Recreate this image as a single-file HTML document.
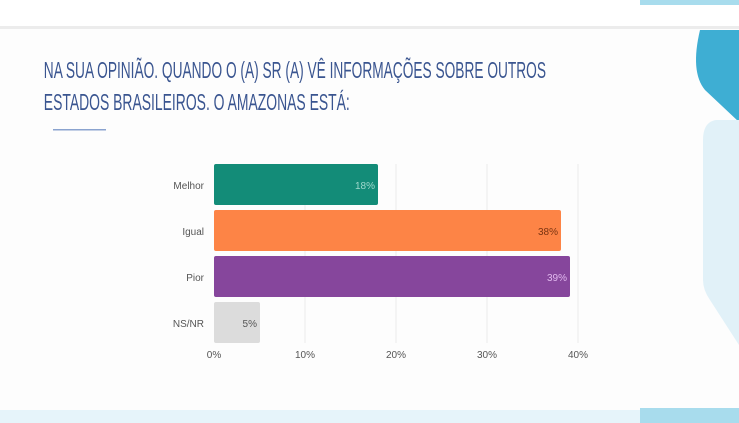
<!DOCTYPE html>
<html><head><meta charset="utf-8"><style>
html,body{margin:0;padding:0;background:#fff;}
svg{display:block}
text{font-family:"Liberation Sans",sans-serif;}
</style></head><body>
<svg width="739" height="423" viewBox="0 0 739 423" xmlns="http://www.w3.org/2000/svg">
<rect width="739" height="423" fill="#fdfdfd"/>
<rect x="0" y="0" width="739" height="26" fill="#ffffff"/>
<rect x="640" y="0" width="99" height="5" fill="#a8dced"/>
<rect x="0" y="26" width="739" height="3" fill="#ececec"/>
<path d="M700 30 L739 30 L739 122 L705 90 Q690 72 700 30 Z" fill="#3eaed3"/>
<path d="M716 120 L739 120 L739 345 L710 300 Q703 290 703 280 L703 140 Q703 122 716 120 Z" fill="#e1f1f8"/>
<rect x="0" y="410" width="739" height="13" fill="#e6f4fa"/>
<rect x="640" y="408" width="99" height="15" fill="#a8dced"/>
<g fill="#3a5590" font-size="23" transform="scale(0.6,1)">
<text x="73" y="78" textLength="837" lengthAdjust="spacingAndGlyphs">NA SUA OPINIÃO. QUANDO O (A) SR (A) VÊ INFORMAÇÕES SOBRE OUTROS</text>
<text x="73" y="110" textLength="510" lengthAdjust="spacingAndGlyphs">ESTADOS BRASILEIROS. O AMAZONAS ESTÁ:</text>
</g>
<rect x="53" y="129" width="53" height="1.5" fill="#8aa3cf"/>
<g stroke="#ebebeb" stroke-width="1">
<line x1="305" y1="164" x2="305" y2="343"/>
<line x1="396" y1="164" x2="396" y2="343"/>
<line x1="487" y1="164" x2="487" y2="343"/>
<line x1="578" y1="164" x2="578" y2="343"/>
</g>
<rect x="214" y="164" width="164" height="41" rx="2" fill="#138c78"/>
<rect x="214" y="210" width="347" height="41" rx="2" fill="#fd8446"/>
<rect x="214" y="256" width="356" height="41" rx="2" fill="#86469c"/>
<rect x="214" y="302" width="46" height="41" rx="2" fill="#dcdcdc"/>
<g font-size="10" text-anchor="end">
<text x="375" y="189" fill="#9fd8cc">18%</text>
<text x="558" y="235" fill="#7a3412">38%</text>
<text x="567" y="281" fill="#e2b9ef">39%</text>
<text x="257" y="327" fill="#555">5%</text>
</g>
<g font-size="10" fill="#555" text-anchor="end">
<text x="204" y="189">Melhor</text>
<text x="204" y="235">Igual</text>
<text x="204" y="281">Pior</text>
<text x="204" y="327">NS/NR</text>
</g>
<g font-size="10" fill="#555" text-anchor="middle">
<text x="214" y="358">0%</text>
<text x="305" y="358">10%</text>
<text x="396" y="358">20%</text>
<text x="487" y="358">30%</text>
<text x="578" y="358">40%</text>
</g>
</svg>
</body></html>
